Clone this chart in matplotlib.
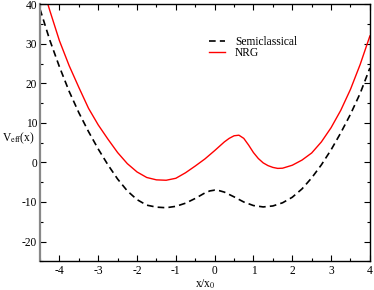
import numpy as np
import matplotlib
matplotlib.use("Agg")
import matplotlib.pyplot as plt
from matplotlib.ticker import MultipleLocator, FuncFormatter

plt.rcParams['font.family'] = ['Liberation Serif', 'DejaVu Serif']
plt.rcParams['mathtext.fontset'] = 'stix'
plt.rcParams['axes.unicode_minus'] = False

# semiclassical curve (dashed black)
x_semi = [-4.5, -4.25, -4.0, -3.75, -3.5, -3.25, -3.0, -2.75, -2.5, -2.25, -2.0,
          -1.75, -1.5, -1.25, -1.0, -0.75, -0.5, -0.25, -0.125, 0.0, 0.125, 0.25,
          0.5, 0.75, 1.0, 1.25, 1.5, 1.75, 2.0, 2.25, 2.5, 2.75, 3.0, 3.25, 3.5,
          3.75, 4.0]
v_semi = [38.8, 31.0, 24.2, 18.0, 12.6, 7.8, 3.4, -0.6, -4.2, -7.2, -9.4,
          -10.8, -11.3, -11.45, -11.1, -10.3, -9.1, -7.7, -7.2, -7.0, -7.15, -7.5,
          -8.7, -10.0, -10.9, -11.25, -11.0, -10.2, -8.8, -6.7, -3.9, -0.6, 3.2, 7.5, 12.2,
          17.5, 23.9]

# NRG curve (solid red)
x_nrg = [-4.5, -4.25, -4.0, -3.75, -3.5, -3.25, -3.0, -2.75, -2.5, -2.25, -2.0,
         -1.75, -1.5, -1.25, -1.0, -0.75, -0.5, -0.25, 0.0, 0.125, 0.25, 0.375,
         0.5, 0.625, 0.75, 0.875, 1.0, 1.125, 1.25, 1.375, 1.5, 1.625, 1.75, 2.0,
         2.25, 2.5, 2.75, 3.0, 3.25, 3.5, 3.75, 4.0]
v_nrg = [46.5, 38.5, 30.8, 24.5, 19.0, 13.7, 9.5, 5.9, 2.5, -0.3, -2.4,
         -3.8, -4.4, -4.5, -4.0, -2.6, -0.9, 0.9, 3.0, 4.1, 5.2, 6.1,
         6.75, 6.9, 6.1, 4.4, 2.5, 1.0, -0.1, -0.8, -1.25, -1.5, -1.45, -0.7,
         0.6, 2.4, 5.2, 8.8, 13.2, 18.5, 24.8, 32.0]

fig = plt.figure(figsize=(3.74, 2.90), dpi=100)
ax = fig.add_axes([0.107, 0.099, 0.882, 0.886])

ax.plot(x_semi, v_semi, color='black', lw=1.2, dashes=(4, 2.5), label='Semiclassical')
ax.plot(x_nrg, v_nrg, color='#ff0000', lw=1.0, label='NRG')

ax.set_xlim(-4.5, 4)
ax.set_ylim(-25, 40)
ax.xaxis.set_major_locator(MultipleLocator(1))
ax.xaxis.set_minor_locator(MultipleLocator(0.5))
ax.yaxis.set_major_locator(MultipleLocator(10))
ax.yaxis.set_minor_locator(MultipleLocator(5))
ax.xaxis.set_major_formatter(FuncFormatter(lambda v, p: '%d' % round(v)))
ax.yaxis.set_major_formatter(FuncFormatter(lambda v, p: '%d' % round(v)))
ax.tick_params(which='both', direction='in', top=True, right=True, labelsize=8.3,
               width=0.8)
ax.tick_params(which='major', length=4.5)
ax.tick_params(which='minor', length=2.5)
ax.tick_params(axis='x', pad=3)
ax.tick_params(axis='y', pad=2)

for s in ax.spines.values():
    s.set_linewidth(1.0)
ax.spines['left'].set_color('#888888')
ax.spines['left'].set_linewidth(1.6)

ax.set_xlabel('x/x$_0$', fontsize=8.3, labelpad=0)
ax.set_ylabel('V$_{\\rm eff}$(x)', fontsize=8.3, rotation=0)
ax.yaxis.set_label_coords(-0.066, 0.45)

ax.legend(loc='upper left', bbox_to_anchor=(0.512, 0.878), frameon=False,
          fontsize=8.3, handlelength=1.4, handletextpad=0.85, labelspacing=-0.1,
          borderpad=0, borderaxespad=0)

fig.savefig('out.png', dpi=100)
